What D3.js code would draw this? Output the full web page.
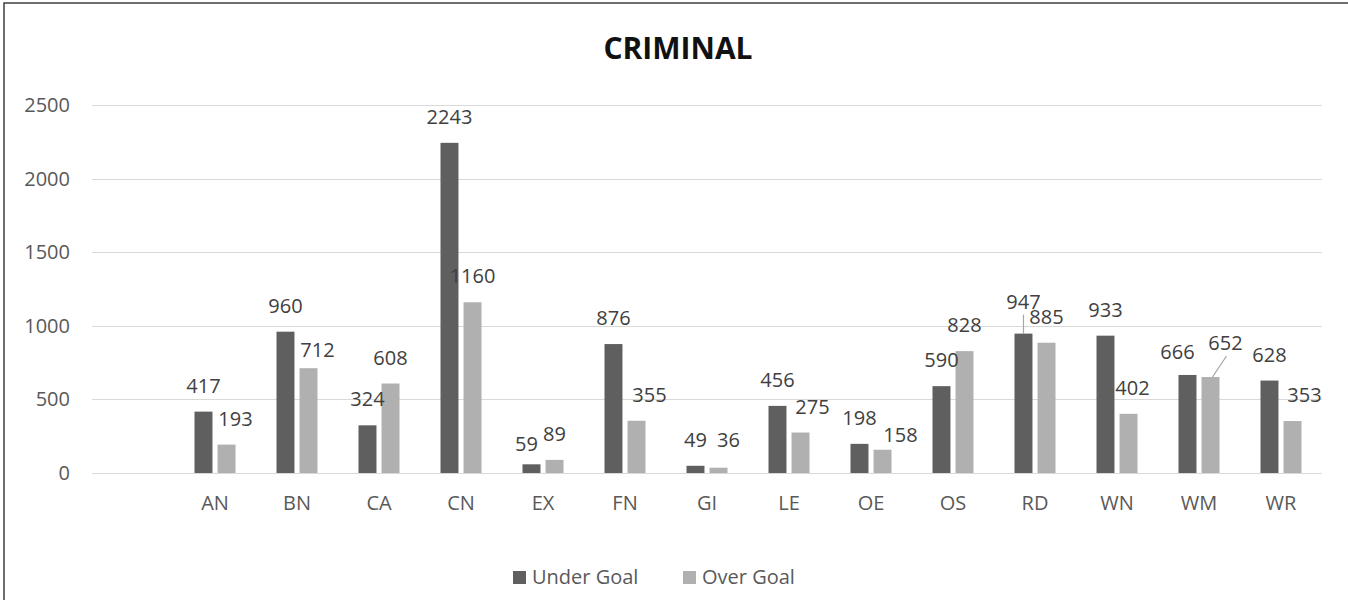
<!DOCTYPE html>
<html>
<head>
<meta charset="utf-8">
<script src="https://cdn.jsdelivr.net/npm/d3@7"></script>
<style>
  html, body { margin: 0; padding: 0; background: #fff; }
  svg { display: block; }
  text { font-family: "Open Sans", "Noto Sans", sans-serif; }
</style>
</head>
<body>
<svg id="chart" width="1348" height="600"></svg>
<script>
// ---- data ----
const title = "CRIMINAL";
const categories = ["", "AN", "BN", "CA", "CN", "EX", "FN", "GI", "LE", "OE", "OS", "RD", "WN", "WM", "WR"];
const underGoal = [null, 417, 960, 324, 2243, 59, 876, 49, 456, 198, 590, 947, 933, 666, 628];
const overGoal  = [null, 193, 712, 608, 1160, 89, 355, 36, 275, 158, 828, 885, 402, 652, 353];
const seriesNames = ["Under Goal", "Over Goal"];
const yTicks = [0, 500, 1000, 1500, 2000, 2500];

// ---- styling / layout ----
const colors = ["#5f5f5f", "#b0b0b0"];
const textColor = "#595959";
const labelColor = "#404040";
// manual label nudges [dx, dy] as placed in the original (series-category)
const labelNudge = {
  "0-EX": [-5, 6], "0-RD": [0, -6], "0-WM": [-10, 3],
  "1-AN": [9, 0], "1-BN": [9, 8], "1-FN": [13, 0], "1-GI": [10, -2],
  "1-LE": [12, 0], "1-OE": [18, 11], "1-WN": [4, 0], "1-WM": [15, -8], "1-WR": [12, 0]
};
const leaders = { "0-RD": true, "1-WM": true };

const svg = d3.select("#chart");
const W = 1348, H = 600;
const plot = { left: 92, right: 1322, top: 105, bottom: 473 };

// frame
svg.append("rect").attr("x", 4).attr("y", 3).attr("width", W + 10).attr("height", H + 10)
  .attr("fill", "none").attr("stroke", "#3f3f3f").attr("stroke-width", 1.5);

const x0 = d3.scaleBand().domain(categories).range([plot.left, plot.right])
  .paddingInner(0.5).paddingOuter(0.25);
const x1 = d3.scaleBand().domain([0, 1]).range([0, x0.bandwidth()]).paddingInner(0.22).paddingOuter(0);
const y = d3.scaleLinear().domain([0, 2500]).range([plot.bottom, plot.top]);

// title
svg.append("text").attr("x", 678).attr("y", 59).attr("text-anchor", "middle")
  .attr("font-size", 30).attr("font-weight", "bold").attr("fill", "#111").text(title);

// gridlines
svg.append("g").selectAll("line").data(yTicks).join("line")
  .attr("x1", plot.left).attr("x2", plot.right)
  .attr("y1", d => Math.round(y(d)) + 0.5).attr("y2", d => Math.round(y(d)) + 0.5)
  .attr("stroke", "#d9d9d9").attr("stroke-width", 1.2);

// y axis labels
const yAxis = d3.axisLeft(y).tickValues(yTicks).tickSize(0).tickPadding(0).tickFormat(d3.format("d"));
const gy = svg.append("g").attr("transform", `translate(70,0)`).call(yAxis);
gy.select(".domain").remove();
gy.selectAll("text").attr("font-size", 20).attr("fill", textColor)
  .attr("font-family", "'Open Sans', sans-serif");

// x axis labels
const xAxis = d3.axisBottom(x0).tickSize(0).tickPadding(0);
const gx = svg.append("g").attr("transform", `translate(0,${plot.bottom + 23})`).call(xAxis);
gx.select(".domain").remove();
gx.selectAll("text").attr("font-size", 20).attr("fill", textColor)
  .attr("font-family", "'Open Sans', sans-serif");

// bars
const rows = categories.map((c, i) => ({ cat: c, vals: [underGoal[i], overGoal[i]] }));
const groups = svg.append("g").selectAll("g").data(rows).join("g")
  .attr("transform", d => `translate(${x0(d.cat)},0)`);

groups.selectAll("rect").data(d => d.vals.map((v, s) => ({ v, s, cat: d.cat })).filter(e => e.v != null))
  .join("rect")
  .attr("x", e => x1(e.s)).attr("width", x1.bandwidth())
  .attr("y", e => y(e.v)).attr("height", e => y(0) - y(e.v))
  .attr("fill", e => colors[e.s]);

// leader lines
groups.selectAll("line.leader").data(d => d.vals.map((v, s) => ({ v, s, cat: d.cat }))
    .filter(e => e.v != null && leaders[e.s + "-" + e.cat]))
  .join("line").attr("class", "leader")
  .attr("x1", e => x1(e.s) + x1.bandwidth() / 2 + (e.s === 1 ? 2 : 0))
  .attr("y1", e => y(e.v))
  .attr("x2", e => { const n = labelNudge[e.s + "-" + e.cat] || [0, 0]; return x1(e.s) + x1.bandwidth() / 2 + n[0] + (e.s === 1 ? 1 : 0); })
  .attr("y2", e => { const n = labelNudge[e.s + "-" + e.cat] || [0, 0]; return y(e.v) - 26 + n[1] + 13; })
  .attr("stroke", "#a6a6a6").attr("stroke-width", 1.2);

// value labels
groups.selectAll("text.val").data(d => d.vals.map((v, s) => ({ v, s, cat: d.cat })).filter(e => e.v != null))
  .join("text").attr("class", "val")
  .attr("x", e => x1(e.s) + x1.bandwidth() / 2 + (labelNudge[e.s + "-" + e.cat] || [0, 0])[0])
  .attr("y", e => y(e.v) - 26 + (labelNudge[e.s + "-" + e.cat] || [0, 0])[1])
  .attr("dy", "0.35em")
  .attr("text-anchor", "middle").attr("font-size", 20).attr("fill", labelColor)
  .text(e => e.v);

// legend
const legendItems = [{ name: seriesNames[0], x: 513 }, { name: seriesNames[1], x: 683 }];
const lg = svg.append("g").selectAll("g").data(legendItems).join("g")
  .attr("transform", d => `translate(${d.x},577)`);
lg.append("rect").attr("x", 0).attr("y", -6).attr("width", 13).attr("height", 13)
  .attr("fill", (d, i) => colors[i]);
lg.append("text").attr("x", 19).attr("y", 0).attr("dy", "0.35em")
  .attr("font-size", 20).attr("fill", textColor).text(d => d.name);
</script>
</body>
</html>
